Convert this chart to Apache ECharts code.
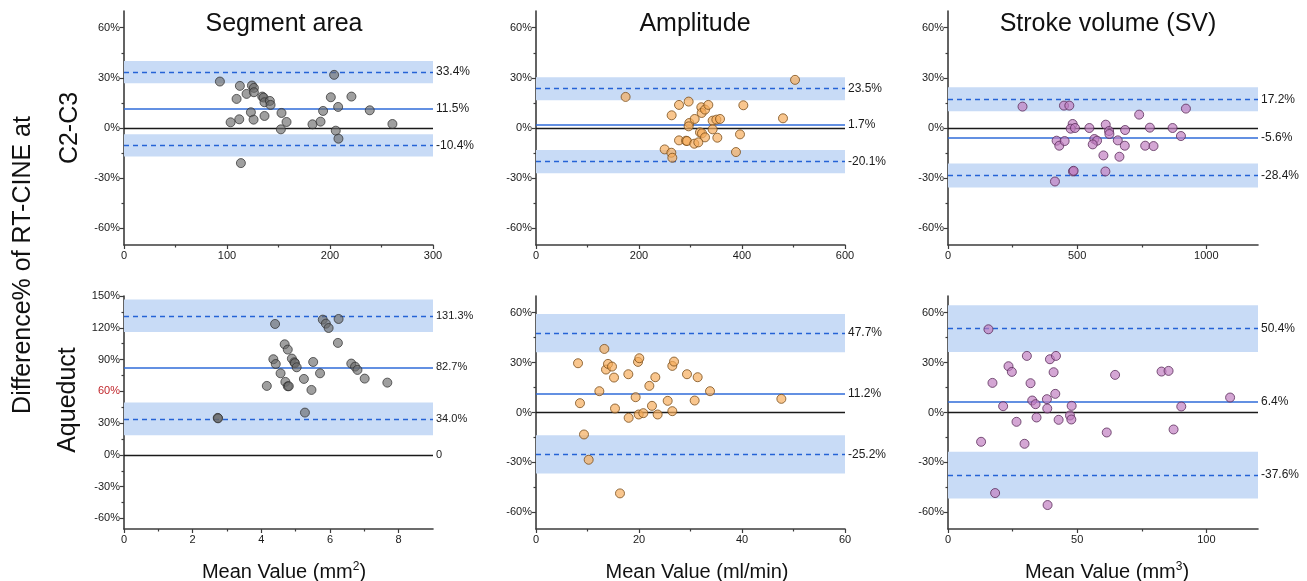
<!DOCTYPE html>
<html><head><meta charset="utf-8">
<script src="https://cdn.jsdelivr.net/npm/echarts@6/dist/echarts.min.js"></script>
<style>html,body{margin:0;padding:0;background:#fff}#c{width:1307px;height:581px}</style>
</head><body><div id="c"></div>
<script>
// ---------------- DATA ----------------
const colTitles = ['Segment area', 'Amplitude', 'Stroke volume (SV)'];
const rowTitles = ['C2-C3', 'Aqueduct'];
const yTitle = 'Difference% of RT-CINE at';
const xTitles = ['Mean Value (mm{sup|2})', 'Mean Value (ml/min)', 'Mean Value (mm{sup|3})'];

// [mean value, difference %]
const segAreaC2C3 = [[93.1,27.8],[112.5,25.2],[109.3,17.4],[119,20.4],[124.2,25.4],[126.1,24],[126.1,21.4],[134.2,18.8],[135.5,18.2],[136.4,15.4],[141.6,16.2],[142.3,13.8],[123.2,9.4],[136.4,7.2],[125.8,5],[111.9,5.2],[103.5,3.4],[152.9,9],[157.8,3.6],[152.3,-0.8],[113.5,-21],[183,2.2],[190.8,3.8],[193.3,10.2],[200.8,18.4],[204,31.8],[207.9,12.6],[205.6,-1.6],[208.2,-6.4],[220.8,18.8],[238.6,10.6],[260.6,2.4]];
const amplitudeC2C3 = [[174,18.6],[503,28.8],[263.4,7.6],[277.7,13.8],[296.4,15.8],[297.7,3],[296.4,1],[308.1,5.4],[321,12.4],[321.7,9],[328.2,11],[334.6,13.8],[318.4,-2.6],[322.3,-3.2],[328.2,-5.6],[343,4.4],[350.2,5],[357.3,5.4],[343,-0.8],[352.1,-5.8],[277.7,-7.4],[291.3,-7.6],[293.2,-7.8],[307.4,-9.4],[315.2,-8.6],[249.8,-12.8],[262.8,-14.8],[264.7,-17.8],[402.6,13.6],[396.1,-3.8],[388.3,-14.4],[479.6,5.8]];
const strokeVolC2C3 = [[288.5,12.8],[448.9,13.4],[469.6,13.4],[482.5,2.4],[474.8,-0.4],[491.6,0],[547.2,0],[610.6,2],[623.5,-1.8],[624.8,-3.6],[685.6,-1.2],[740,8],[781.4,0.2],[869.3,0],[921,11.6],[901.7,-4.8],[420.4,-7.6],[430.8,-10.6],[451.5,-7.8],[414,-32],[483.8,-26],[486.4,-25.6],[566.6,-6.6],[577,-7.6],[560.2,-9.8],[601.6,-16.4],[609.3,-26],[657.2,-7.4],[663.6,-17.2],[684.3,-10.6],[763.3,-10.6],[795.6,-10.8]];
const segAreaAqueduct = [[2.73,34.9],[2.74,34.5],[4.4,123.6],[4.16,65.1],[4.35,90.3],[4.42,85.8],[4.56,77],[4.68,104.4],[4.77,99.4],[4.7,68.9],[4.77,64.8],[4.8,64.8],[4.89,90.9],[4.96,87.4],[4.98,86.5],[5.03,82.7],[5.24,71.7],[5.27,39.9],[5.46,61.3],[5.51,87.7],[5.71,77],[5.79,127.7],[5.88,123.9],[5.96,119.8],[6.25,128.3],[6.23,105.7],[6.62,86.2],[6.73,83.3],[6.8,80.2],[7.01,72],[7.67,68.2]];
const amplitudeAqueduct = [[8.16,29.6],[8.54,5.6],[9.32,-13.2],[10.23,-28.4],[12.3,12.8],[13.27,38.2],[13.59,25.8],[13.98,29.2],[14.76,27.6],[15.15,21],[15.34,2.4],[16.31,-48.6],[17.93,23],[17.99,-3.2],[19.35,9.2],[19.81,30.4],[20.06,32.6],[19.94,-1.2],[20.84,-0.4],[22.01,16],[22.52,4],[23.17,21.2],[23.62,-1.2],[25.57,7],[26.47,28],[26.8,30.6],[26.47,0.8],[29.32,23],[30.81,7.2],[31.39,21.2],[33.79,12.8],[47.64,8.2]];
const strokeVolAqueduct = [[15.65,50],[12.81,-17.6],[17.21,17.8],[18.24,-48.4],[21.34,3.8],[23.42,27.8],[24.71,24.4],[26.52,-5.6],[29.62,-18.8],[30.53,34],[31.95,17.6],[32.6,7.2],[33.89,5],[34.28,-3],[38.29,8],[38.42,2.4],[38.55,-55.6],[39.46,32],[40.88,24.2],[41.53,11.2],[41.79,34],[42.82,-4.4],[47.22,-1.8],[47.74,-4.2],[47.87,4],[61.45,-12],[64.68,22.6],[82.66,24.6],[85.38,25],[87.32,-10.2],[90.3,3.6],[109.2,9]];

// [mean bias, upper LoA, lower LoA, CI half-width of LoA]
const statsSegC2C3 = [11.5, 33.4, -10.4, 6.7];
const statsAmpC2C3 = [1.7, 23.5, -20.1, 6.9];
const statsSvC2C3 = [-5.6, 17.2, -28.4, 7.2];
const statsSegAq = [82.7, 131.3, 34.0, 15.4];
const statsAmpAq = [11.2, 47.7, -25.2, 11.5];
const statsSvAq = [6.4, 50.4, -37.6, 14.0];

// axis ticks: [min, max, major ticks, minor ticks]
const xTicksSegC2C3 = [0, 300, [0,100,200,300], [50,150,250]];
const xTicksAmpC2C3 = [0, 600, [0,200,400,600], [100,300,500]];
const xTicksSvC2C3 = [0, 1200, [0,500,1000], [250,750]];
const xTicksSegAq = [0, 9, [0,2,4,6,8], [1,3,5,7]];
const xTicksAmpAq = [0, 60, [0,20,40,60], [10,30,50]];
const xTicksSvAq = [0, 120, [0,50,100], [25,75]];
const yTicksStd = [-70, 70, [-60,-30,0,30,60], [-45,-15,15,45]];
const yTicksSegAq = [-70, 150, [-60,-30,0,30,60,90,120,150], [-45,-15,15,45,75,105,135]];

// ---------------- LAYOUT / STYLE ----------------
const FONT = '"Liberation Sans", Arial, sans-serif';
const grids = [
  {left:124, top:11, width:309, height:234},
  {left:536, top:11, width:309, height:234},
  {left:948, top:11, width:310, height:234},
  {left:124, top:296, width:309, height:233},
  {left:536, top:296, width:309, height:233},
  {left:948, top:296, width:310, height:233}
];
const styles = {
  grey:   {color:'rgba(105,105,105,0.8)', borderColor:'rgba(45,45,45,0.9)'},
  orange: {color:'rgba(246,172,90,0.85)', borderColor:'#7a4f1c'},
  purple: {color:'rgba(192,124,192,0.85)', borderColor:'#5a2d5a'}
};
const panels = [
  {data:segAreaC2C3, stats:statsSegC2C3, xt:xTicksSegC2C3, yt:yTicksStd, st:styles.grey, lblSize:12},
  {data:amplitudeC2C3, stats:statsAmpC2C3, xt:xTicksAmpC2C3, yt:yTicksStd, st:styles.orange, lblSize:12},
  {data:strokeVolC2C3, stats:statsSvC2C3, xt:xTicksSvC2C3, yt:yTicksStd, st:styles.purple, lblSize:12},
  {data:segAreaAqueduct, stats:statsSegAq, xt:xTicksSegAq, yt:yTicksSegAq, st:styles.grey, lblSize:11, zeroLabel:true, redLabel:60},
  {data:amplitudeAqueduct, stats:statsAmpAq, xt:xTicksAmpAq, yt:yTicksStd, st:styles.orange, lblSize:12},
  {data:strokeVolAqueduct, stats:statsSvAq, xt:xTicksSvAq, yt:yTicksStd, st:styles.purple, lblSize:12}
];

const AXIS_COLOR = '#3c3c3c';
const xAxes = [], yAxes = [], series = [];
panels.forEach((p, i) => {
  const [xmin, xmax, xMaj, xMin] = p.xt;
  const [ymin, ymax, yMaj, yMin] = p.yt;
  xAxes.push({
    type:'value', gridIndex:i, min:xmin, max:xmax, position:'bottom',
    splitLine:{show:false},
    axisLine:{show:true, onZero:false, lineStyle:{color:AXIS_COLOR, width:1.6}},
    axisTick:{show:true, length:4, customValues:xMaj, lineStyle:{color:AXIS_COLOR, width:1.2}},
    axisLabel:{customValues:xMaj, color:'#1a1a1a', fontSize:11, fontFamily:FONT, margin:5,
      formatter: v => String(v)}
  });
  xAxes.push({
    type:'value', gridIndex:i, min:xmin, max:xmax, position:'bottom',
    splitLine:{show:false}, axisLine:{show:false, onZero:false},
    axisTick:{show:true, length:2.5, customValues:xMin, lineStyle:{color:AXIS_COLOR, width:1.2}},
    axisLabel:{show:false}
  });
  yAxes.push({
    type:'value', gridIndex:i, min:ymin, max:ymax, position:'left',
    splitLine:{show:false},
    axisLine:{show:true, onZero:false, lineStyle:{color:AXIS_COLOR, width:1.6}},
    axisTick:{show:true, length:4, customValues:yMaj, lineStyle:{color:AXIS_COLOR, width:1.2}},
    axisLabel:{customValues:yMaj, color:'#1a1a1a', fontSize:11, fontFamily:FONT, margin:4,
      formatter: v => (p.redLabel !== undefined && v === p.redLabel) ? '{r|' + v + '%}' : v + '%',
      rich:{r:{color:'#c0262b', fontSize:11, fontFamily:FONT}}}
  });
  yAxes.push({
    type:'value', gridIndex:i, min:ymin, max:ymax, position:'left',
    splitLine:{show:false}, axisLine:{show:false, onZero:false},
    axisTick:{show:true, length:2.5, customValues:yMin, lineStyle:{color:AXIS_COLOR, width:1.2}},
    axisLabel:{show:false}
  });
  const [mean, up, lo, ci] = p.stats;
  const lbl = (txt) => ({show:true, position:'end', distance:3, formatter:txt, color:'#1a1a1a', fontSize:p.lblSize, fontFamily:FONT});
  const dash = {color:'#2563d6', width:1.3, type:[5,4]};
  series.push({
    type:'scatter', xAxisIndex:2*i, yAxisIndex:2*i, data:p.data, symbol:'circle', symbolSize:9, z:4,
    itemStyle:{color:p.st.color, borderColor:p.st.borderColor, borderWidth:1},
    animation:false,
    markArea:{silent:true, z:1, itemStyle:{color:'#c8dbf6'}, data:[
      [{yAxis:up-ci},{yAxis:up+ci}],
      [{yAxis:lo-ci},{yAxis:lo+ci}]
    ]},
    markLine:{silent:true, z:2, symbol:['none','none'], animation:false, data:[
      {yAxis:0, lineStyle:{color:'#1a1a1a', width:1.4, type:'solid'}, label: p.zeroLabel ? lbl('0') : {show:false}},
      {yAxis:mean, lineStyle:{color:'#2f6bd8', width:1.5, type:'solid'}, label:lbl(mean.toFixed(1)+'%')},
      {yAxis:up, lineStyle:dash, label:lbl(up.toFixed(1)+'%')},
      {yAxis:lo, lineStyle:dash, label:lbl(lo.toFixed(1)+'%')}
    ]}
  });
});

const textEl = (txt, x, y, size, rot, rich) => ({
  type:'text', x:x, y:y, rotation:rot || 0, silent:true,
  style:{text:txt, fontSize:size, fontFamily:FONT, fill:'#111',
    textAlign:'center', textVerticalAlign:'middle', align:'center', verticalAlign:'middle', rich:rich}
});
const supRich = {sup:{fontSize:12, fontFamily:FONT, fill:'#111', verticalAlign:'top', lineHeight:22}};
const graphics = [
  textEl(colTitles[0], 284, 24, 25),
  textEl(colTitles[1], 695, 24, 25),
  textEl(colTitles[2], 1108, 24, 25),
  textEl(xTitles[0], 284, 572, 20, 0, supRich),
  textEl(xTitles[1], 697, 572, 20, 0, supRich),
  textEl(xTitles[2], 1107, 572, 20, 0, supRich),
  textEl(yTitle, 23, 265, 25, Math.PI/2),
  textEl(rowTitles[0], 70, 128, 25, Math.PI/2),
  textEl(rowTitles[1], 68, 400, 25, Math.PI/2)
];

const chart = echarts.init(document.getElementById('c'), null, {renderer:'canvas'});
chart.setOption({
  animation:false,
  backgroundColor:'#ffffff',
  textStyle:{fontFamily:FONT},
  grid:grids,
  xAxis:xAxes,
  yAxis:yAxes,
  series:series,
  graphic:graphics
});
</script></body></html>
